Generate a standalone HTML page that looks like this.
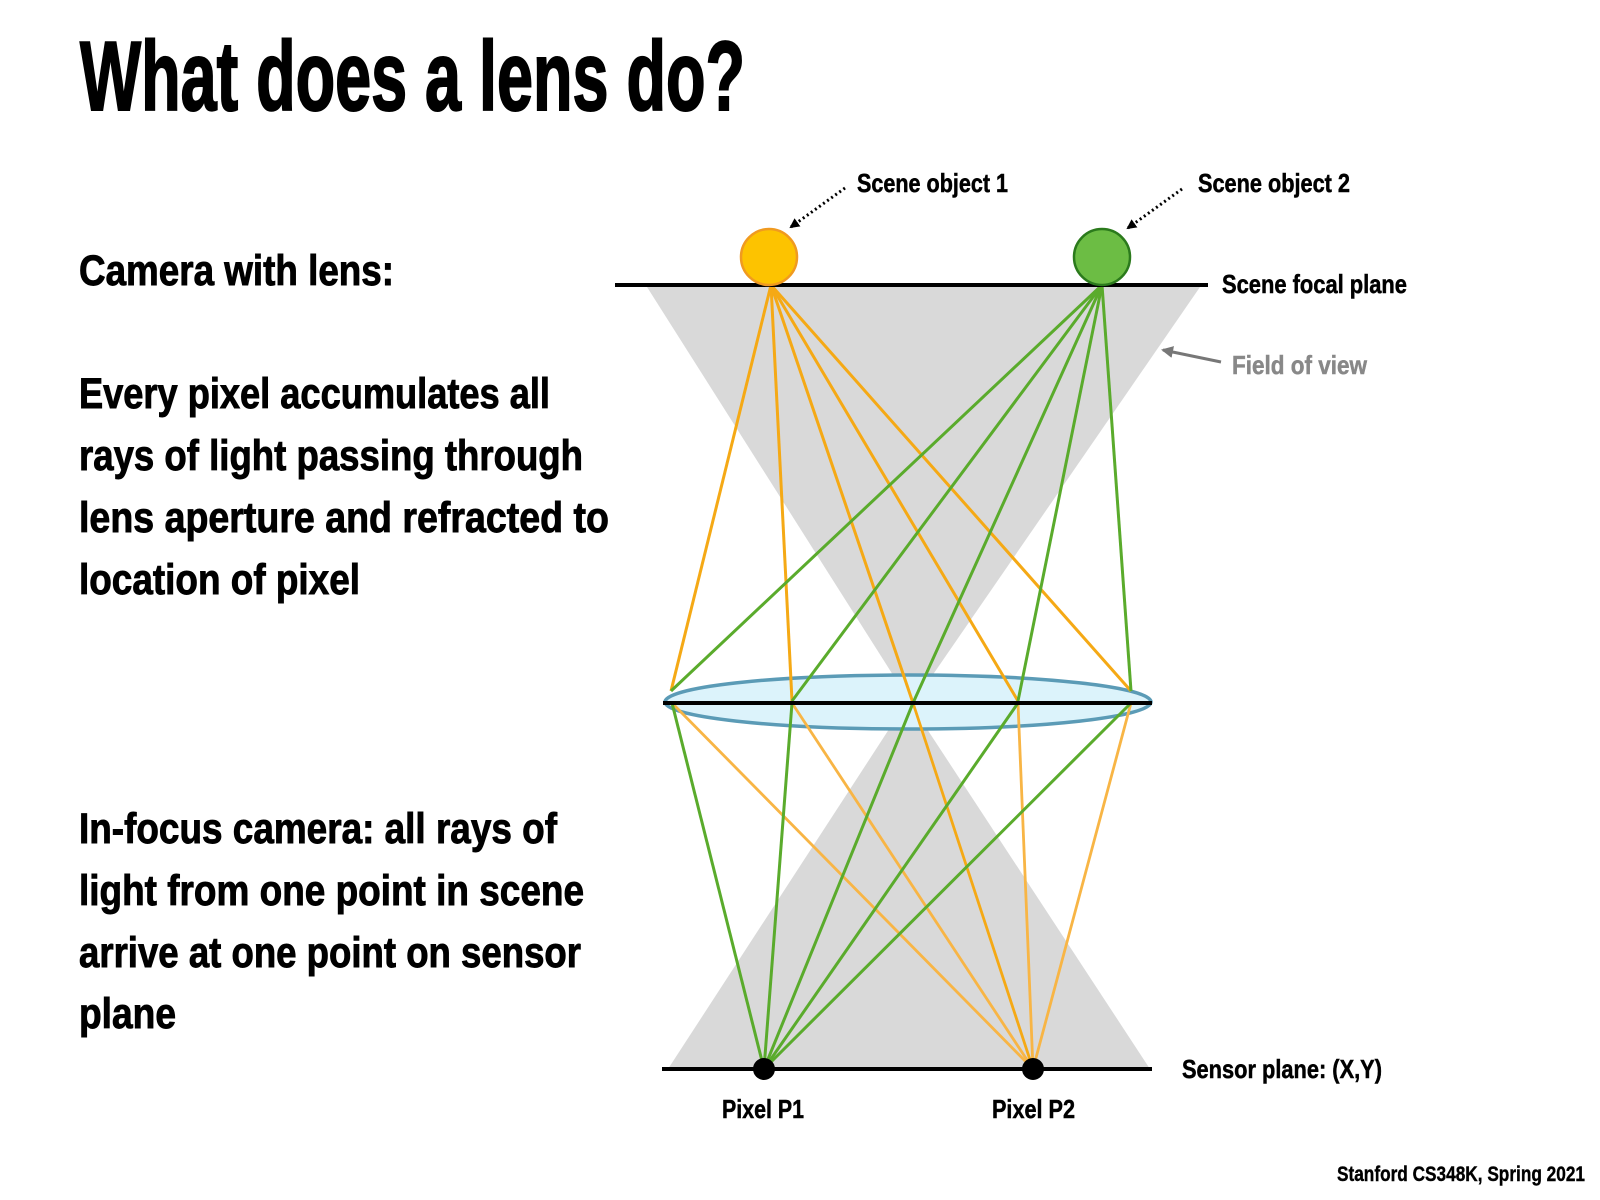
<!DOCTYPE html>
<html><head><meta charset="utf-8"><style>
html,body{margin:0;padding:0;background:#fff;}
svg{display:block;}
text{font-family:"Liberation Sans",sans-serif;font-weight:bold;}
.b{stroke:#000;stroke-width:0.9px;}
</style></head><body>
<svg width="1600" height="1200" viewBox="0 0 1600 1200" xmlns="http://www.w3.org/2000/svg">
<defs>
<marker id="ah" markerWidth="10" markerHeight="10" refX="8" refY="5" orient="auto" markerUnits="userSpaceOnUse">
<path d="M0,0 L10,5 L0,10 z" fill="#000"/></marker>
<marker id="ahg" markerWidth="12" markerHeight="12" refX="10" refY="6" orient="auto" markerUnits="userSpaceOnUse">
<path d="M0,0 L12,6 L0,12 z" fill="#777"/></marker>
</defs>
<text x="80" y="110" font-size="98" textLength="665" lengthAdjust="spacingAndGlyphs" style="stroke:#000;stroke-width:2px">What does a lens do?</text>
<text class="b" x="79" y="285" font-size="43" textLength="315" lengthAdjust="spacingAndGlyphs">Camera with lens:</text>
<text class="b" x="79" y="408" font-size="43" textLength="471" lengthAdjust="spacingAndGlyphs">Every pixel accumulates all</text>
<text class="b" x="79" y="470" font-size="43" textLength="504" lengthAdjust="spacingAndGlyphs">rays of light passing through</text>
<text class="b" x="79" y="532" font-size="43" textLength="530" lengthAdjust="spacingAndGlyphs">lens aperture and refracted to</text>
<text class="b" x="79" y="594" font-size="43" textLength="281" lengthAdjust="spacingAndGlyphs">location of pixel</text>
<text class="b" x="79" y="843" font-size="43" textLength="478" lengthAdjust="spacingAndGlyphs">In-focus camera:  all rays of</text>
<text class="b" x="79" y="905" font-size="43" textLength="505" lengthAdjust="spacingAndGlyphs">light from one point in scene</text>
<text class="b" x="79" y="967" font-size="43" textLength="502" lengthAdjust="spacingAndGlyphs">arrive at one point on sensor</text>
<text class="b" x="79" y="1028" font-size="43" textLength="97" lengthAdjust="spacingAndGlyphs">plane</text>

<polygon points="647,287 1200,287 912,705" fill="#d9d9d9"/>
<polygon points="908,700 668,1069 1150,1069" fill="#d9d9d9"/>

<ellipse cx="908" cy="702" rx="243" ry="27" fill="#dcf3fb" stroke="#5b9bb6" stroke-width="3.5"/>

<g stroke="#f5a915" stroke-width="3" fill="none">
<line x1="771" y1="285" x2="671" y2="691"/>
<line x1="771" y1="285" x2="792" y2="701"/>
<line x1="771" y1="285" x2="913" y2="703"/>
<line x1="771" y1="285" x2="1018" y2="701"/>
<line x1="771" y1="285" x2="1131" y2="691"/>
</g>
<g stroke="#5aab2c" stroke-width="3" fill="none">
<line x1="1102" y1="285" x2="671" y2="691"/>
<line x1="1102" y1="285" x2="792" y2="701"/>
<line x1="1102" y1="285" x2="913" y2="703"/>
<line x1="1102" y1="285" x2="1018" y2="701"/>
<line x1="1102" y1="285" x2="1131" y2="691"/>
</g>
<g stroke="#f8b545" stroke-width="2.8" fill="none">
<line x1="672" y1="703" x2="1033" y2="1069"/>
<line x1="792" y1="703" x2="1033" y2="1069"/>
<line x1="913" y1="703" x2="1033" y2="1069" stroke="#f5a915"/>
<line x1="1018" y1="703" x2="1033" y2="1069"/>
<line x1="1131" y1="703" x2="1033" y2="1069"/>
</g>
<g stroke="#5aab2c" stroke-width="3" fill="none">
<line x1="672" y1="703" x2="764" y2="1069"/>
<line x1="792" y1="703" x2="764" y2="1069"/>
<line x1="913" y1="703" x2="764" y2="1069"/>
<line x1="1018" y1="703" x2="764" y2="1069"/>
<line x1="1131" y1="703" x2="764" y2="1069"/>
</g>

<line x1="615" y1="285" x2="1208" y2="285" stroke="#000" stroke-width="4"/>
<line x1="663" y1="703" x2="1152" y2="703" stroke="#000" stroke-width="4"/>
<line x1="662" y1="1069" x2="1152" y2="1069" stroke="#000" stroke-width="4"/>

<circle cx="769" cy="257" r="28" fill="#fdc300" stroke="#f09a20" stroke-width="2.5"/>
<circle cx="1102" cy="257" r="28" fill="#6cbd44" stroke="#2b7a1c" stroke-width="2.5"/>

<circle cx="764" cy="1069" r="11" fill="#000"/>
<circle cx="1033" cy="1069" r="11" fill="#000"/>

<line x1="845" y1="188" x2="791" y2="227" stroke="#000" stroke-width="3" stroke-dasharray="2,3" marker-end="url(#ah)"/>
<line x1="1182" y1="189" x2="1128" y2="228" stroke="#000" stroke-width="3" stroke-dasharray="2,3" marker-end="url(#ah)"/>
<line x1="1221" y1="362" x2="1163" y2="350" stroke="#777" stroke-width="3" marker-end="url(#ahg)"/>

<text class="b" x="857" y="192" font-size="26" textLength="151" lengthAdjust="spacingAndGlyphs" style="stroke-width:0.5px">Scene object 1</text>
<text class="b" x="1198" y="192" font-size="26" textLength="152" lengthAdjust="spacingAndGlyphs" style="stroke-width:0.5px">Scene object 2</text>
<text class="b" x="1222" y="293" font-size="26" textLength="185" lengthAdjust="spacingAndGlyphs" style="stroke-width:0.5px">Scene focal plane</text>
<text x="1232" y="374" font-size="26" textLength="135" lengthAdjust="spacingAndGlyphs" fill="#888" style="stroke:#888;stroke-width:0.5px">Field of view</text>
<text class="b" x="1182" y="1078" font-size="26" textLength="200" lengthAdjust="spacingAndGlyphs" style="stroke-width:0.5px">Sensor plane: (X,Y)</text>
<text class="b" x="722" y="1118" font-size="26" textLength="82" lengthAdjust="spacingAndGlyphs" style="stroke-width:0.5px">Pixel P1</text>
<text class="b" x="992" y="1118" font-size="26" textLength="83" lengthAdjust="spacingAndGlyphs" style="stroke-width:0.5px">Pixel P2</text>
<text class="b" x="1337" y="1181" font-size="21" textLength="248" lengthAdjust="spacingAndGlyphs" style="stroke-width:0.4px">Stanford CS348K, Spring 2021</text>
</svg>
</body></html>
